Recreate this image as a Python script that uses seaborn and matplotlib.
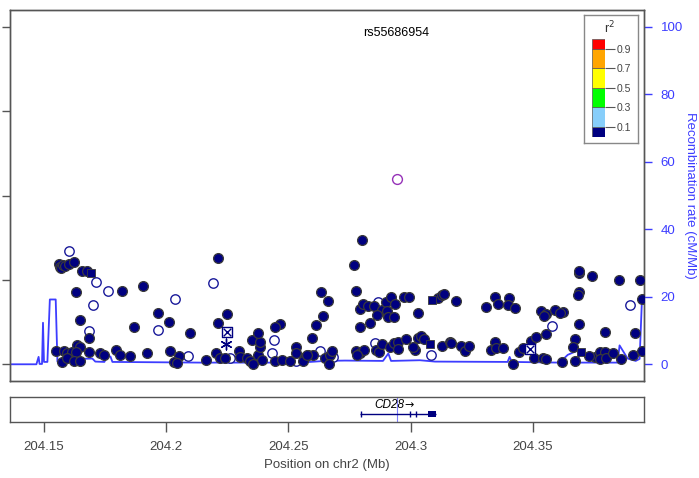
import matplotlib
matplotlib.use("Agg")
import matplotlib.pyplot as plt
import seaborn as sns
import pandas as pd
import numpy as np

sns.set_theme(style="white")
plt.rcParams['font.family'] = ['Liberation Sans', 'DejaVu Sans']

# ---------------- data ----------------
filled_pos = [204.1551,204.1560,204.1567,204.1570,204.1578,204.1588,204.1601,204.1622,204.1656,204.1676,
              204.1818,204.1906,204.1633,204.2213,204.1968,204.2013,204.1868,204.2096,204.1649,204.1685,
              204.2211,204.1581,204.1595,204.1615,204.1636,204.1649,204.1629,204.1683,204.1731,204.1744,
              204.1796,204.1813,204.1850,204.1922,204.2014,204.2051,204.2164,204.2205,204.1574,204.1595,
              204.1622,204.1649,204.2030,204.2045,204.2248,204.2221,204.2241,204.2296,204.2303,204.2330,
              204.2344,204.2357,204.2377,204.2382,204.2351,204.2384,204.2377,204.2466,204.2446,204.2391,
              204.2446,204.2473,204.2507,204.2530,204.2531,204.2568,204.2582,204.2602,204.2596,204.2613,
              204.2643,204.2663,204.2635,204.2650,204.2670,204.2677,204.2668,204.2561,204.2575,204.2770,
              204.2802,204.2775,204.2793,204.2806,204.2826,204.2850,204.2883,204.2899,204.2920,204.2936,
              204.2861,204.2902,204.2909,204.2934,204.2834,204.2795,204.2775,204.2793,204.2810,204.2779,
              204.2860,204.2872,204.2882,204.2915,204.2931,204.2947,204.2947,204.2973,204.2994,204.3029,
              204.2981,204.3031,204.3041,204.3018,204.3056,204.3011,204.3113,204.3127,204.3137,204.3185,
              204.3127,204.3161,204.3167,204.3208,204.3222,204.3239,204.3310,204.3344,204.3359,204.3403,
              204.3399,204.3426,204.3327,204.3347,204.3351,204.3378,204.3417,204.3442,204.3460,204.3494,
              204.3512,204.3556,204.3504,204.3542,204.3556,204.3619,204.3532,204.3556,204.3545,204.3592,
              204.3623,204.3610,204.3688,204.3690,204.3743,204.3689,204.3686,204.3852,204.3940,204.3946,
              204.3688,204.3671,204.3664,204.3671,204.3794,204.3918,204.3753,204.3773,204.3794,204.3773,
              204.3801,204.3828,204.3859,204.3909,204.3946,204.3732]
filled_logp = [0.315,2.377,2.313,2.275,2.353,2.329,2.377,2.431,2.218,2.218,
               1.737,1.863,1.706,2.526,1.227,0.998,0.879,0.749,1.043,0.616,
               0.972,0.315,0.268,0.299,0.457,0.403,0.299,0.299,0.275,0.220,
               0.339,0.220,0.197,0.275,0.308,0.197,0.102,0.261,0.062,0.142,
               0.085,0.085,0.066,0.038,1.187,0.142,0.142,0.322,0.180,0.142,
               0.085,0.007,0.220,0.403,0.576,0.521,0.735,0.948,0.877,0.102,
               0.085,0.102,0.085,0.417,0.275,0.166,0.220,0.220,0.630,0.924,
               1.133,1.500,1.709,0.142,0.220,0.315,0.007,0.078,0.220,2.353,
               2.950,1.730,1.310,1.422,1.382,1.393,1.287,1.488,1.602,1.422,
               1.164,1.263,1.114,1.121,0.979,0.872,0.308,0.261,0.339,0.220,
               0.339,0.299,0.481,0.410,0.509,0.536,0.355,1.602,1.588,1.209,
               0.595,0.616,0.678,0.339,0.592,0.403,1.564,1.642,1.666,1.507,
               0.434,0.536,0.498,0.434,0.315,0.441,1.351,1.588,1.422,1.564,
               1.405,1.327,0.339,0.536,0.379,0.393,0.007,0.299,0.379,0.552,
               0.654,0.711,0.142,0.142,0.118,0.062,1.263,1.192,1.152,1.287,
               1.246,1.223,2.156,2.218,2.092,1.706,1.642,1.991,1.998,1.540,
               0.955,0.592,0.403,0.078,0.773,0.735,0.180,0.299,0.299,0.118,
               0.142,0.275,0.126,0.220,0.315,0.197]

open_pos = [204.1604,204.1714,204.1763,204.1702,204.2038,204.2190,204.1968,204.1685,204.2088,204.2262,
            204.2442,204.2435,204.2531,204.2630,204.2683,204.2865,204.2853,204.3083,204.3580,204.3896]
open_logp = [2.685,1.957,1.744,1.412,1.540,1.927,0.806,0.789,0.185,0.142,
             0.576,0.261,0.085,0.315,0.180,1.469,0.493,0.209,0.908,1.405]

square_pos = [204.1693,204.3088,204.3079,204.3696]
square_logp = [2.156,1.524,0.474,0.284]

boxx_pos = [204.2247,204.3490]
boxx_logp = [0.765,0.363]

aster_pos = [204.2243]
aster_logp = [0.488]

lead_snp = "rs55686954"
lead_pos = [204.2943]
lead_logp = [4.384]

recomb_pos = [204.1361,204.1469,204.1478,204.1482,204.1492,204.1496,204.1500,204.1514,204.1524,204.1548,
              204.1555,204.1608,204.1649,204.1698,204.1710,204.1747,204.1759,204.1772,204.1780,204.2139,
              204.2548,204.2650,204.2732,204.2887,204.2909,204.2920,204.3038,204.3100,204.3397,204.3405,
              204.3414,204.3610,204.3643,204.3675,204.3684,204.3692,204.3847,204.3855,204.3888,204.3921,
              204.3937,204.3947,204.3957]
recomb_rate = [0.0,0.0,2.2,0.1,0.1,12.3,0.7,0.7,19.2,19.2,
               0.8,0.8,1.6,1.7,0.8,0.7,2.3,2.3,0.7,0.5,
               0.5,1.0,1.1,1.0,3.2,1.0,1.2,0.8,0.7,2.2,
               0.7,0.5,2.8,3.8,4.2,0.5,0.5,5.6,1.7,1.0,
               1.6,19.9,19.9]

gene_name = "CD28"
gene_start, gene_end = 204.2795, 204.3104
exon_starts = [204.2795, 204.2996, 204.3023, 204.3073]
exon_ends = [204.2797, 204.2998, 204.3025, 204.3104]

x_ticks = [204.15, 204.20, 204.25, 204.30, 204.35]
x_ticklabels = ["204.15", "204.2", "204.25", "204.3", "204.35"]
recomb_ticks = [0, 20, 40, 60, 80, 100]
logp_ticks = [0, 2, 4, 6, 8]

r2_breaks = [0.0, 0.1, 0.3, 0.5, 0.7, 0.9, 1.0]
r2_colors = ["#000080", "#87CEFA", "#00FF00", "#FFFF00", "#FFA500", "#FF0000"]
r2_ticks = [0.1, 0.3, 0.5, 0.7, 0.9]

# ---------------- figure ----------------
W, H = 699, 478
fig = plt.figure(figsize=(W / 100, H / 100), dpi=100)

def px_axes(x0, y0, x1, y1):
    return fig.add_axes([x0 / W, 1 - y1 / H, (x1 - x0) / W, (y1 - y0) / H])

xlim = (204.1361, 204.3955)
frame_col = "#555555"
navy = "#000080"
rec_col = "#3d3dff"

ax = px_axes(10, 10, 644, 381)
ax2 = ax.twinx()

# recombination line
rec_df = pd.DataFrame({"pos": recomb_pos, "rate": recomb_rate})
sns.lineplot(data=rec_df, x="pos", y="rate", ax=ax2, sort=False, estimator=None,
             color=rec_col, linewidth=1.3)

# points
df_open = pd.DataFrame({"pos": open_pos, "logp": open_logp})
df_f = pd.DataFrame({"pos": filled_pos, "logp": filled_logp})
df_s = pd.DataFrame({"pos": square_pos, "logp": square_logp})
df_b = pd.DataFrame({"pos": boxx_pos, "logp": boxx_logp})
df_a = pd.DataFrame({"pos": aster_pos, "logp": aster_logp})
df_l = pd.DataFrame({"pos": lead_pos, "logp": lead_logp})

sns.scatterplot(data=df_open, x="pos", y="logp", ax=ax, marker="o", s=46,
                facecolor="white", edgecolor="#1a1a9a", linewidth=1.0, zorder=3)
sns.scatterplot(data=df_f, x="pos", y="logp", ax=ax, marker="o", s=50,
                color=navy, edgecolor="#3a3a3a", linewidth=0.9, zorder=4)
sns.scatterplot(data=df_s, x="pos", y="logp", ax=ax, marker="s", s=40,
                color=navy, edgecolor="#3a3a3a", linewidth=0.6, zorder=5)
sns.scatterplot(data=df_b, x="pos", y="logp", ax=ax, marker="s", s=44,
                facecolor="white", edgecolor=navy, linewidth=1.0, zorder=5)
sns.scatterplot(data=df_b, x="pos", y="logp", ax=ax, marker="x", s=30,
                color=navy, linewidth=1.0, zorder=6)
sns.scatterplot(data=df_a, x="pos", y="logp", ax=ax, marker=(6, 2, 0), s=60,
                color=navy, edgecolor=navy, linewidth=1.0, zorder=5)
sns.scatterplot(data=df_l, x="pos", y="logp", ax=ax, marker="o", s=50,
                facecolor="white", edgecolor="#9632b8", linewidth=1.0, zorder=6)

ax.text(lead_pos[0], 7.85, lead_snp, ha="center", va="center", fontsize=9, color="black")

ax.set_zorder(ax2.get_zorder() + 1)
ax.patch.set_visible(False)

ax.set_xlim(*xlim)
ax.set_ylim(-0.396, 8.396)
ax2.set_ylim(-4.95, 104.95)
ax.set_xticks([])
ax.set_yticks(logp_ticks)
ax.set_yticklabels([])
ax.set_xlabel("")
ax.set_ylabel("")
ax.tick_params(axis="y", left=True, length=6, width=1, color=frame_col, direction="out")

ax2.set_yticks(recomb_ticks)
ax2.set_yticklabels([str(t) for t in recomb_ticks], color=rec_col, fontsize=9.5)
ax2.tick_params(axis="y", right=True, length=6, width=1, color=rec_col, direction="out", pad=6)
ax2.set_ylabel("Recombination rate (cM/Mb)", color=rec_col, fontsize=9.5, rotation=270,
               labelpad=1, va="bottom")
ax2.set_xlabel("")
for a in (ax, ax2):
    for sp in a.spines.values():
        sp.set_color(frame_col)
        sp.set_linewidth(1.0)
        sp.set_visible(True)

# r2 legend
lg = px_axes(584, 15, 638, 143)
lg.set_xticks([]); lg.set_yticks([])
for sp in lg.spines.values():
    sp.set_color("#888888"); sp.set_linewidth(1.0)
lg.text(0.48, 0.9, "r$^2$", transform=lg.transAxes, ha="center", va="center", fontsize=9, color="#333333")

cb = px_axes(592, 39, 605, 136.5)
heights = np.diff(r2_breaks)
cb.bar(x=[0] * len(r2_colors), height=heights, bottom=r2_breaks[:-1], width=1.0,
       color=r2_colors, edgecolor="#555555", linewidth=0.5, align="center")
cb.set_xlim(-0.5, 0.5)
cb.set_ylim(0, 1)
cb.set_xticks([])
cb.yaxis.tick_right()
cb.set_yticks(r2_ticks)
cb.set_yticklabels([f"{t:.1f}" for t in r2_ticks], fontsize=7.5, color="#444444")
cb.tick_params(axis="y", right=True, length=7, width=0.8, color="#555555", pad=1.5)
for sp in cb.spines.values():
    sp.set_visible(False)

# gene panel
gx = px_axes(10, 397, 644, 422)
gx.set_xlim(*xlim)
gx.set_ylim(0, 1)
gx.set_yticks([])
gx.axvline(lead_pos[0] + 0.0003, color="#8080ff", linewidth=0.8, zorder=1)
gx.hlines(0.32, gene_start, gene_end, color=navy, linewidth=1.0, zorder=2)
for s0, s1 in zip(exon_starts, exon_ends):
    if s1 - s0 > 0.001:
        gx.fill_between([s0, s1], 0.19, 0.45, color=navy, linewidth=0, zorder=3)
    else:
        gx.vlines((s0 + s1) / 2, 0.2, 0.44, color=navy, linewidth=1.0, zorder=3)
gene_mid = (gene_start + gene_end) / 2
gx.text(gene_mid + 0.0024, 0.66, gene_name, ha="right", va="center",
        fontsize=8.5, style="italic", color="black")
gx.text(gene_mid + 0.0024, 0.66, "\u2192", ha="left", va="center",
        fontsize=8, color="black", family=["DejaVu Sans"])
gx.set_xticks(x_ticks)
gx.set_xticklabels(x_ticklabels, fontsize=9.5, color="#444444")
gx.tick_params(axis="x", bottom=True, length=7, width=1, color=frame_col, direction="out", pad=7)
gx.set_xlabel("Position on chr2 (Mb)", fontsize=9.5, color="#444444", labelpad=4)
for sp in gx.spines.values():
    sp.set_color(frame_col); sp.set_linewidth(1.0); sp.set_visible(True)

fig.savefig("out.png", dpi=100)
